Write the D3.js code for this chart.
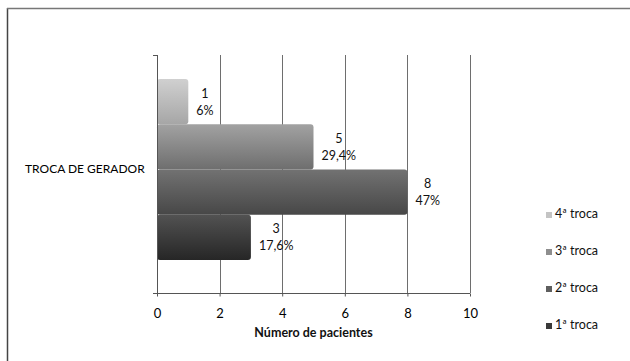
<!DOCTYPE html>
<html>
<head>
<meta charset="utf-8">
<script src="https://cdn.jsdelivr.net/npm/d3@7"></script>
<style>
  html, body { margin: 0; padding: 0; background: #fff; }
  svg { display: block; font-family: Lato, "Open Sans", sans-serif; }
</style>
</head>
<body>
<svg id="chart" width="630" height="361"></svg>
<script>
// Data: one category, four generator-replacement series (top to bottom)
const categories = ["TROCA DE GERADOR"];
const seriesNames = ["4ª troca", "3ª troca", "2ª troca", "1ª troca"];
const patientCounts = [1, 5, 8, 3];
const percentLabels = ["6%", "29,4%", "47%", "17,6%"];
const xTicks = [0, 2, 4, 6, 8, 10];
const xTitle = "Número de pacientes";

// Gradient stops per series (top colour, bottom colour)
const barTop = ["#d0d0d0", "#a2a2a2", "#727272", "#525252"];
const barBottom = ["#a6a6a6", "#6e6e6e", "#474747", "#262626"];
const swatch = ["#c4c4c4", "#8e8e8e", "#5e5e5e", "#3a3a3a"];

const svg = d3.select("#chart");

// outer frame (left and top rules)
svg.append("line").attr("x1", 7.5).attr("x2", 7.5).attr("y1", 8).attr("y2", 361)
  .attr("stroke", "#444").attr("stroke-width", 1.5);
svg.append("line").attr("x1", 7).attr("x2", 630).attr("y1", 8.5).attr("y2", 8.5)
  .attr("stroke", "#777").attr("stroke-width", 1.5);

const plot = { left: 157, right: 470, top: 55, bottom: 293 };

const x = d3.scaleLinear().domain([0, 10]).range([plot.left, plot.right]);
const yCat = d3.scaleBand().domain(categories).range([plot.top, plot.bottom])
  .paddingInner(0).paddingOuter(0.157).align(0.42);
const ySer = d3.scaleBand().domain(seriesNames).range([0, yCat.bandwidth()]).padding(0);

// gradients
const defs = svg.append("defs");
seriesNames.forEach((s, i) => {
  const g = defs.append("linearGradient").attr("id", "grad" + i)
    .attr("x1", 0).attr("y1", 0).attr("x2", 0).attr("y2", 1);
  g.append("stop").attr("offset", "0%").attr("stop-color", barTop[i]);
  g.append("stop").attr("offset", "100%").attr("stop-color", barBottom[i]);
});

// vertical gridlines
const grid = svg.append("g");
grid.selectAll("line").data(xTicks.slice(1)).join("line")
  .attr("x1", d => Math.round(x(d)) + 0.5).attr("x2", d => Math.round(x(d)) + 0.5)
  .attr("y1", plot.top).attr("y2", plot.bottom)
  .attr("stroke", "#6e6e6e").attr("stroke-width", 1);

// bars
const catY = yCat(categories[0]);
const bars = svg.append("g");
bars.selectAll("rect.bar").data(seriesNames).join("rect")
  .attr("class", "bar")
  .attr("x", x(0))
  .attr("y", s => catY + ySer(s))
  .attr("width", (s, i) => x(patientCounts[i]) - x(0))
  .attr("height", ySer.bandwidth())
  .attr("rx", 3).attr("ry", 3)
  .attr("fill", (s, i) => `url(#grad${i})`);

// value labels
const labels = svg.append("g").attr("fill", "#111").attr("font-size", 12.5);
seriesNames.forEach((s, i) => {
  const cy = catY + ySer(s) + ySer.bandwidth() / 2;
  const g = labels.append("g");
  const t1 = g.append("text").attr("text-anchor", "middle").attr("y", -4).text(patientCounts[i]);
  const t2 = g.append("text").attr("text-anchor", "middle").attr("y", 13).text(percentLabels[i]);
  const w = Math.max(t1.node().getComputedTextLength(), t2.node().getComputedTextLength());
  g.attr("transform", `translate(${x(patientCounts[i]) + 8 + w / 2},${cy})`);
});

// category axis (vertical)
const yAxis = svg.append("g");
yAxis.append("line").attr("x1", plot.left + 0.5).attr("x2", plot.left + 0.5)
  .attr("y1", plot.top).attr("y2", plot.bottom).attr("stroke", "#555");
yAxis.selectAll("line.tk").data([plot.top, plot.bottom]).join("line").attr("class", "tk")
  .attr("x1", plot.left - 4).attr("x2", plot.left).attr("y1", d => d + 0.5).attr("y2", d => d + 0.5)
  .attr("stroke", "#555");
yAxis.append("text").attr("x", 25).attr("y", catY + yCat.bandwidth() / 2 + 1)
  .attr("dominant-baseline", "middle").attr("font-size", 12).attr("fill", "#000")
  .text(categories[0]);

// value axis (bottom)
const xAxis = svg.append("g").attr("transform", `translate(0,${plot.bottom + 0.5})`)
  .call(d3.axisBottom(x).tickValues(xTicks).tickSize(3).tickPadding(12).tickSizeOuter(0));
xAxis.select(".domain").attr("stroke", "#555").attr("d", `M${plot.left - 4},0H${plot.right}`);
xAxis.selectAll(".tick line").attr("stroke", "#555");
xAxis.selectAll(".tick text").attr("font-family", "Lato, sans-serif")
  .attr("font-size", 13).attr("fill", "#000");

svg.append("text").attr("x", (plot.left + plot.right) / 2).attr("y", 337)
  .attr("text-anchor", "middle").attr("font-size", 12.5).attr("font-weight", "bold")
  .attr("fill", "#111").text(xTitle);

// legend
const legendY = [215, 252, 289, 326];
const legend = svg.append("g");
seriesNames.forEach((s, i) => {
  legend.append("rect").attr("x", 546).attr("y", legendY[i] - 3).attr("width", 6).attr("height", 6)
    .attr("fill", swatch[i]);
  legend.append("text").attr("x", 555).attr("y", legendY[i])
    .attr("dominant-baseline", "middle").attr("font-size", 12.5).attr("fill", "#111").text(s);
});
</script>
</body>
</html>
